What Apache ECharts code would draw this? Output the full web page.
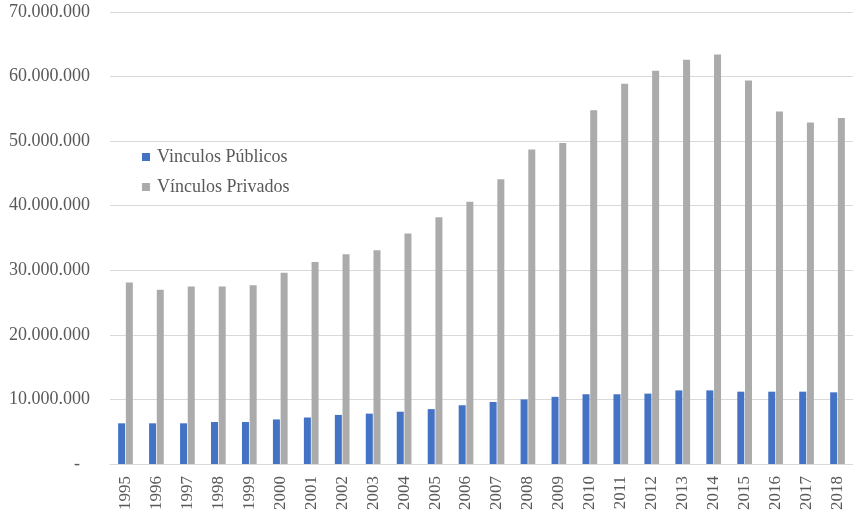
<!DOCTYPE html>
<html>
<head>
<meta charset="utf-8">
<script src="https://cdn.jsdelivr.net/npm/echarts@6/dist/echarts.min.js"></script>
<style>
  html, body { margin: 0; padding: 0; background: #ffffff; }
  #chart { width: 853px; height: 514px; }
</style>
</head>
<body>
<div id="chart"></div>
<script>
// Employment links per year, public vs private
const years = ['1995','1996','1997','1998','1999','2000','2001','2002','2003','2004','2005','2006',
               '2007','2008','2009','2010','2011','2012','2013','2014','2015','2016','2017','2018'];
const vinculosPublicos = [6300000, 6300000, 6300000, 6500000, 6500000, 6900000, 7200000, 7600000,
                          7800000, 8100000, 8500000, 9100000, 9600000, 10000000, 10400000, 10800000,
                          10800000, 10900000, 11400000, 11400000, 11200000, 11200000, 11200000, 11100000];
const vinculosPrivados = [28100000, 27000000, 27500000, 27500000, 27700000, 29600000, 31300000, 32500000,
                          33100000, 35700000, 38200000, 40600000, 44100000, 48700000, 49700000, 54800000,
                          58900000, 60900000, 62600000, 63400000, 59400000, 54600000, 52900000, 53600000];
const seriesNames = ['Vinculos Públicos', 'Vínculos Privados'];

const font = 'Liberation Serif, Times New Roman, serif';
const textColor = '#595959';

function thousands(v) {
  return String(v).replace(/\B(?=(\d{3})+(?!\d))/g, '.');
}

const chart = echarts.init(document.getElementById('chart'), null, { renderer: 'canvas' });
chart.setOption({
  animation: false,
  backgroundColor: '#ffffff',
  grid: { left: 110, right: -7, top: 12, bottom: 50, containLabel: false },
  legend: {
    orient: 'vertical',
    left: 137,
    top: 143,
    itemWidth: 8,
    itemHeight: 8,
    itemGap: 12,
    icon: 'rect',
    textStyle: { fontFamily: font, fontSize: 18, color: textColor, padding: [0, 0, 0, 2] },
    data: seriesNames
  },
  xAxis: {
    type: 'category',
    data: years,
    axisTick: { show: false },
    axisLine: { show: true, lineStyle: { color: '#d9d9d9', width: 1 } },
    axisLabel: {
      rotate: 90,
      margin: 12,
      interval: 0,
      fontFamily: font,
      fontSize: 17,
      color: textColor
    }
  },
  yAxis: {
    type: 'value',
    min: 0,
    max: 70000000,
    interval: 10000000,
    axisLine: { show: false },
    axisTick: { show: false },
    splitLine: { lineStyle: { color: '#d9d9d9', width: 1 } },
    axisLabel: {
      margin: 20,
      fontFamily: font,
      fontSize: 18,
      color: textColor,
      formatter: function (v) { return v === 0 ? '{dash|-}' : thousands(v); },
      rich: { dash: { fontFamily: font, fontSize: 18, color: textColor, padding: [0, 10, 0, 0] } }
    }
  },
  series: [
    {
      name: seriesNames[0],
      type: 'bar',
      data: vinculosPublicos,
      barWidth: 7,
      barGap: '10%',
      itemStyle: { color: '#4472C4' }
    },
    {
      name: seriesNames[1],
      type: 'bar',
      data: vinculosPrivados,
      barWidth: 7,
      barGap: '10%',
      itemStyle: { color: '#ABABAB' }
    }
  ]
});
</script>
</body>
</html>
